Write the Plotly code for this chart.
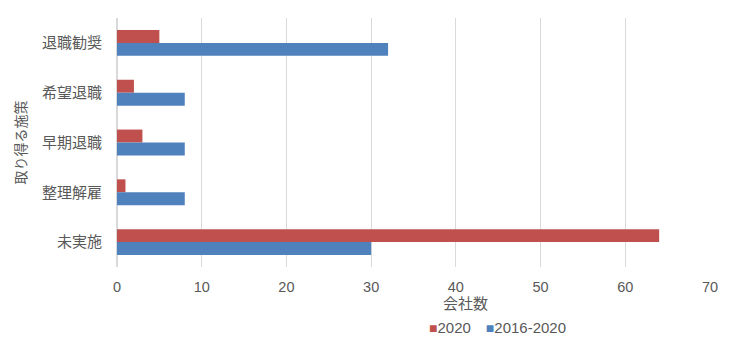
import plotly.graph_objects as go

categories = ["退職勧奨", "希望退職", "早期退職", "整理解雇", "未実施"]
vals_2020 = [5, 2, 3, 1, 64]
vals_2016_2020 = [32, 8, 8, 8, 30]
x_ticks = [0, 10, 20, 30, 40, 50, 60, 70]
series_names = ["2020", "2016-2020"]
series_colors = ["#C0504D", "#4F81BD"]

font_family = "Liberation Sans, Arial, Noto Sans CJK JP"
text_color = "#595959"

W, H = 747, 348
ML, MR, MT, MB = 117, 37, 18, 81
PW, PH = W - ML - MR, H - MT - MB


def px_x(px):
    return (px - ML) / PW


def px_y(py):
    return (H - MB - py) / PH


fig = go.Figure()
for name, vals, col in zip(series_names, [vals_2020, vals_2016_2020], series_colors):
    fig.add_trace(go.Bar(y=categories, x=vals, name=name, orientation="h",
                         marker=dict(color=col, line=dict(width=0))))

# x-axis title (offset to the right as in the original)
fig.add_annotation(text="会社数", xref="paper", yref="paper",
                   x=px_x(465), y=px_y(303), xanchor="center", yanchor="middle",
                   showarrow=False, font=dict(size=15, color=text_color))

# compact legend like the original (small squares)
legend_text = "\u2003".join(
    f"<span style='color:{c};font-size:14px'>■</span>{n}"
    for n, c in zip(series_names, series_colors)
)
fig.add_annotation(text=legend_text, xref="paper", yref="paper",
                   x=px_x(497), y=px_y(327),
                   xanchor="center", yanchor="middle", showarrow=False,
                   font=dict(size=15, color=text_color))

fig.update_layout(
    width=W, height=H,
    margin=dict(l=ML, r=MR, t=MT, b=MB, autoexpand=False),
    barmode="group", bargap=0.48, bargroupgap=0,
    plot_bgcolor="white", paper_bgcolor="white",
    font=dict(family=font_family, size=15, color=text_color),
    showlegend=False,
    xaxis=dict(range=[0, 70], tickvals=x_ticks, showgrid=True, gridcolor="#D9D9D9",
               gridwidth=1, zeroline=True, zerolinecolor="#D9D9D9", showline=False,
               ticks="", ticklabelstandoff=9, automargin=False,
               tickfont=dict(size=14.5)),
    yaxis=dict(autorange="reversed", showgrid=False, showline=False, ticks="",
               ticklabelstandoff=14, automargin=False,
               title=dict(text="取り得る施策", standoff=12, font=dict(size=14)),
               tickfont=dict(size=15)),
)

fig.write_html("out.html")
